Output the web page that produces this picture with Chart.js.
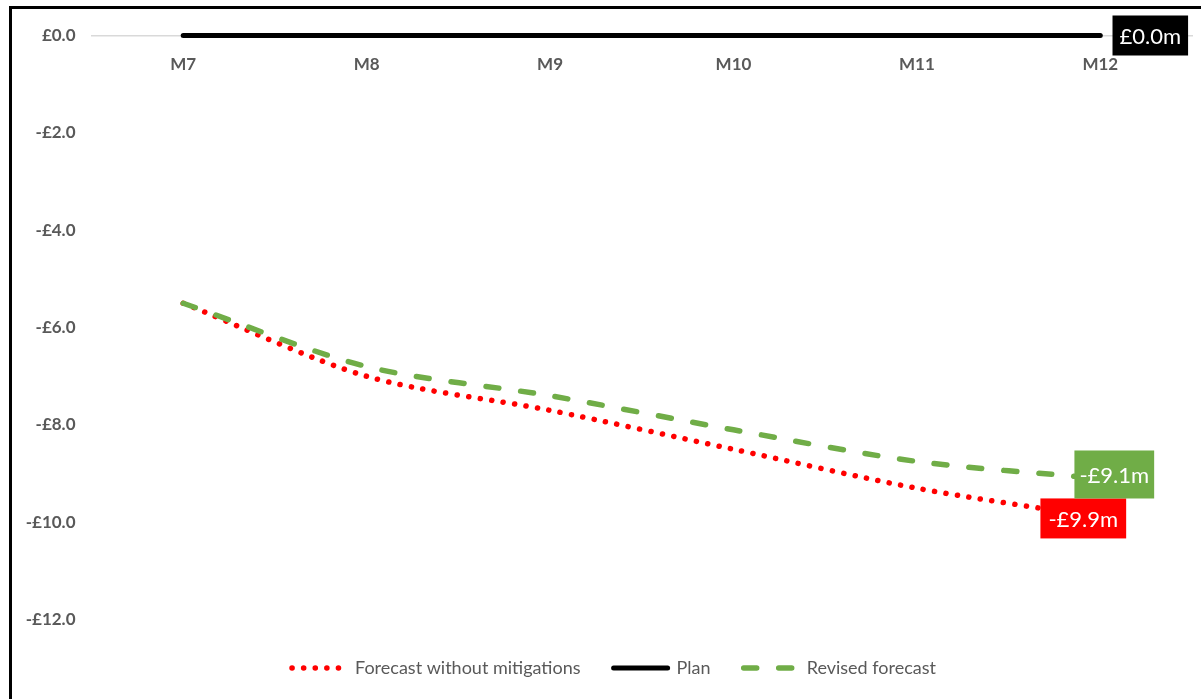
<!DOCTYPE html>
<html>
<head>
<meta charset="utf-8">
<script src="https://cdn.jsdelivr.net/npm/chart.js@4.4.1/dist/chart.umd.min.js"></script>
<style>
  html, body { margin: 0; padding: 0; background: #fff; overflow: hidden; }
  .frame {
    position: absolute; left: 9px; top: 6px;
    width: 1300px; height: 800px;
    border: 3px solid #000;
  }
  .wrap { position: relative; width: 1213px; height: 690px; }
</style>
</head>
<body>
<div class="frame">
  <div class="wrap"><canvas id="graficaForecast"></canvas></div>
</div>
<script>
// datos
const months = ['M7', 'M8', 'M9', 'M10', 'M11', 'M12'];
const forecastNoMitigations = [-5.5, -7.0, -7.7, -8.5, -9.3, -9.9];
const plan = [0, 0, 0, 0, 0, 0];
const revisedForecast = [-5.5, -6.8, -7.4, -8.1, -8.75, -9.1];
const yTicks = [0, -2, -4, -6, -8, -10, -12];

const grey = '#595959';
const tickFont = { family: 'Lato, "Open Sans", sans-serif', size: 17, weight: 'bold' };

function money(v, suffix) {
    const s = '£' + Math.abs(v).toFixed(1) + (suffix || '');
    return (v < 0 ? '-' : '') + s;
}

// etiqueta al final de cada serie
const endLabels = {
    id: 'endLabels',
    afterDatasetsDraw(chart) {
        const ctx = chart.ctx;
        chart.data.datasets.forEach((ds, i) => {
            const lab = ds.endLabel;
            if (!lab) return;
            const meta = chart.getDatasetMeta(i);
            const pt = meta.data[meta.data.length - 1];
            const text = money(ds.data[ds.data.length - 1], 'm');
            ctx.save();
            ctx.font = '22px Lato, "Open Sans", sans-serif';
            const w = ctx.measureText(text).width + lab.padX * 2;
            const h = lab.h;
            const cx = pt.x + lab.dx;
            const cy = pt.y + lab.dy;
            ctx.fillStyle = lab.bg;
            ctx.fillRect(cx - w / 2, cy - h / 2, w, h);
            ctx.fillStyle = '#fff';
            ctx.textAlign = 'center';
            ctx.textBaseline = 'middle';
            ctx.fillText(text, cx, cy + 1);
            ctx.restore();
        });
    }
};

new Chart(document.getElementById('graficaForecast'), {
    type: 'line',
    data: {
        labels: months,
        datasets: [
            {
                label: 'Forecast without mitigations',
                data: forecastNoMitigations,
                borderColor: '#ff0000',
                backgroundColor: '#ff0000',
                borderWidth: 5.5,
                borderDash: [0.1, 11.5],
                borderCapStyle: 'round',
                tension: 0.3,
                pointRadius: 0,
                order: 2,
                endLabel: { bg: '#ff0000', dx: -17, dy: 1, h: 40, padX: 8 }
            },
            {
                label: 'Plan',
                data: plan,
                borderColor: '#000',
                backgroundColor: '#000',
                borderWidth: 5,
                borderCapStyle: 'round',
                tension: 0.3,
                pointRadius: 0,
                clip: false,
                order: 1,
                endLabel: { bg: '#000', dx: 50, dy: 0, h: 40, padX: 7 }
            },
            {
                label: 'Revised forecast',
                data: revisedForecast,
                borderColor: '#70ad47',
                backgroundColor: '#70ad47',
                borderWidth: 5.5,
                borderDash: [13, 22],
                borderCapStyle: 'round',
                tension: 0.3,
                pointRadius: 0,
                order: 0,
                endLabel: { bg: '#70ad47', dx: 14, dy: -4, h: 48, padX: 5 }
            }
        ]
    },
    options: {
        responsive: true,
        maintainAspectRatio: false,
        animation: false,
        layout: { padding: { left: 0, right: 9, top: 26.5, bottom: 12 } },
        scales: {
            x: {
                position: { y: 0 },
                offset: true,
                grid: { display: false, drawTicks: false },
                border: { display: true, color: '#d9d9d9', width: 1.5 },
                ticks: {
                    padding: 19,
                    color: grey,
                    font: tickFont
                }
            },
            y: {
                min: -12.5,
                max: 0,
                grid: { display: false, drawTicks: false },
                border: { display: false },
                afterBuildTicks(axis) {
                    axis.ticks = yTicks.map(v => ({ value: v }));
                },
                afterFit(axis) {
                    axis.width = 79.5;
                },
                ticks: {
                    padding: 16,
                    color: grey,
                    font: tickFont,
                    callback: v => money(v)
                }
            },
            // eje vacio a la derecha, solo para centrar la leyenda
            yRight: {
                position: 'right',
                grid: { display: false, drawTicks: false },
                border: { display: false },
                ticks: { display: false },
                afterFit(axis) {
                    axis.width = 24;
                }
            }
        },
        plugins: {
            legend: {
                position: 'bottom',
                labels: {
                    usePointStyle: true,
                    pointStyleWidth: 54,
                    boxHeight: 5,
                    padding: 15,
                    color: grey,
                    font: { family: '"Liberation Sans Narrow", Lato, sans-serif', size: 18 },
                    generateLabels(chart) {
                        const n = chart.data.datasets.length;
                        return chart.data.datasets.map((ds, i) => ({
                            // espacio extra entre elementos
                            text: ds.label + (i < n - 1 ? '\u2003 ' : ''),
                            datasetIndex: i,
                            pointStyle: 'line',
                            strokeStyle: ds.borderColor,
                            fillStyle: ds.borderColor,
                            lineWidth: ds.borderWidth,
                            lineDash: ds.borderDash || [],
                            lineCap: 'round',
                            fontColor: grey,
                            hidden: false
                        }));
                    }
                }
            },
            tooltip: { enabled: false }
        }
    },
    plugins: [endLabels]
});
</script>
</body>
</html>
